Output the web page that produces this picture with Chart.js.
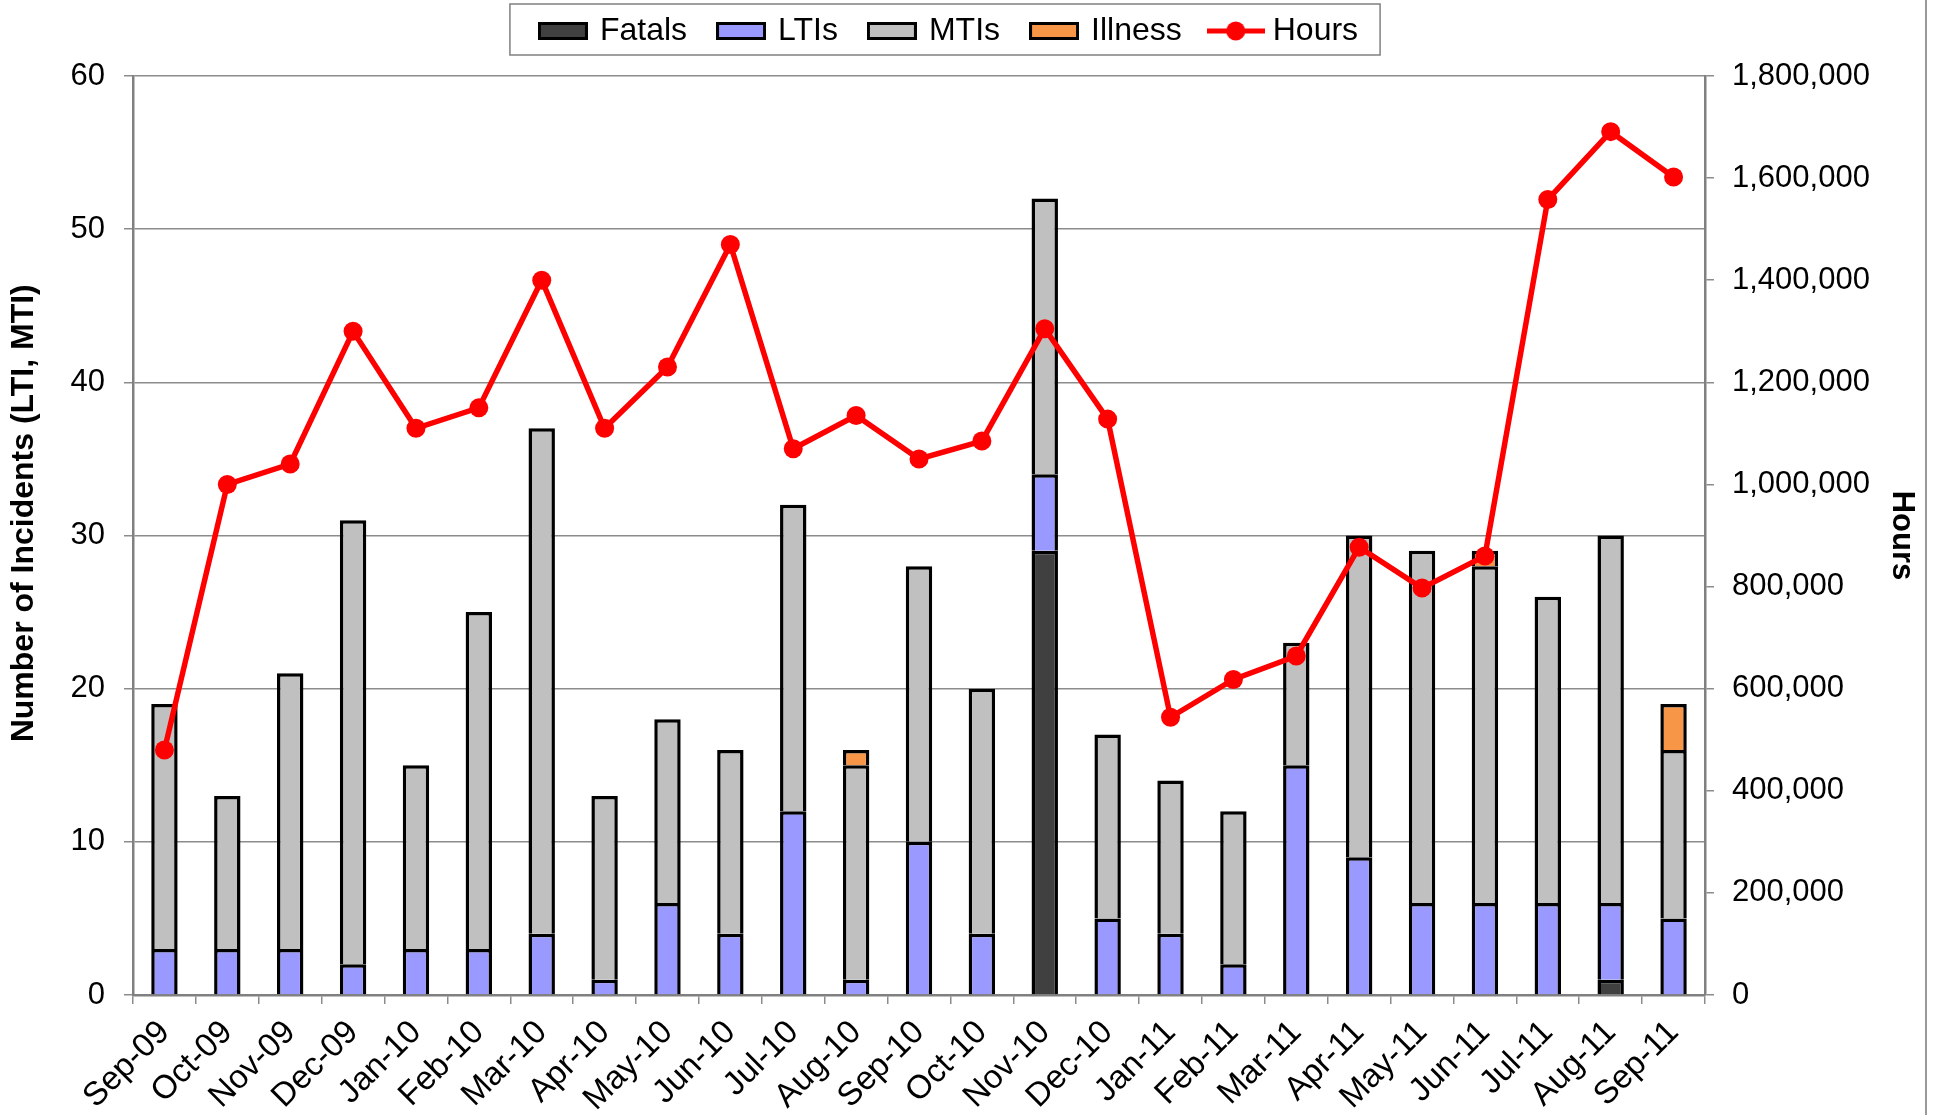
<!DOCTYPE html>
<html>
<head>
<meta charset="utf-8">
<script src="https://cdn.jsdelivr.net/npm/chart.js@4.4.1/dist/chart.umd.min.js"></script>
<style>
html,body{margin:0;padding:0;background:#fff;}
#wrap{width:1934px;height:1115px;position:relative;}
</style>
</head>
<body>
<div id="wrap"><canvas id="c" width="1934" height="1115"></canvas></div>
<script>
const categories = ['Sep-09','Oct-09','Nov-09','Dec-09','Jan-10','Feb-10','Mar-10','Apr-10','May-10','Jun-10','Jul-10','Aug-10','Sep-10','Oct-10','Nov-10','Dec-10','Jan-11','Feb-11','Mar-11','Apr-11','May-11','Jun-11','Jul-11','Aug-11','Sep-11'];
const fatals  = [0,0,0,0,0,0,0,0,0,0,0,0,0,0,29,0,0,0,0,0,0,0,0,1,0];
const ltis    = [3,3,3,2,3,3,4,1,6,4,12,1,10,4,5,5,4,2,15,9,6,6,6,5,5];
const mtis    = [16,10,18,29,12,22,33,12,12,12,20,14,18,16,18,12,10,10,8,21,23,22,20,24,11];
const illness = [0,0,0,0,0,0,0,0,0,0,0,1,0,0,0,0,0,0,0,0,0,1,0,0,3];
const hours   = [480000,1000000,1040000,1300000,1110000,1150000,1400000,1110000,1230000,1470000,1070000,1135000,1050000,1085000,1305000,1128000,544000,618000,664000,877000,797000,860000,1558000,1691000,1602000];
const leftTicks = [0,10,20,30,40,50,60];
const rightTicks = [0,200000,400000,600000,800000,1000000,1200000,1400000,1600000,1800000];

const FONT = "'Liberation Sans', Arial, sans-serif";
Chart.defaults.font.family = FONT;
Chart.defaults.color = '#000';

function boxIcon(fill){
  const c = document.createElement('canvas'); c.width = 50; c.height = 18;
  const g = c.getContext('2d');
  g.fillStyle = fill; g.fillRect(1.5,1.5,47,15);
  g.strokeStyle = '#000'; g.lineWidth = 3; g.strokeRect(1.5,1.5,47,15);
  return c;
}
function lineIcon(){
  const c = document.createElement('canvas'); c.width = 58; c.height = 22;
  const g = c.getContext('2d');
  g.strokeStyle = '#ff0000'; g.lineWidth = 5;
  g.beginPath(); g.moveTo(0,11); g.lineTo(58,11); g.stroke();
  g.fillStyle = '#ff0000'; g.beginPath(); g.arc(29,11,9.5,0,Math.PI*2); g.fill();
  return c;
}

const barBorder = ctx => (ctx.raw ? 3.5 : 0);
const icons = [boxIcon('#404040'), boxIcon('#9999ff'), boxIcon('#c0c0c0'), boxIcon('#f79646'), lineIcon()];

const gridColor = '#8c8c8c';

const legendPlugin = {
  id: 'legendTweak',
  beforeLayout(chart){
    const lg = chart.legend;
    if (lg && !lg._patched){
      const f = lg.fit;
      lg.fit = function(){ f.call(this); this.height = 76; };
      lg._patched = true;
    }
  },
  afterLayout(chart){
    const lg = chart.legend;
    if (lg){ lg.top = -18; lg.left -= 34; }
  },
  afterDraw(chart){
    const g = chart.ctx;
    const lg = chart.legend;
    if (lg && lg.legendHitBoxes && lg.legendHitBoxes.length){
      const hb = lg.legendHitBoxes;
      const l = hb[0].left - 32, r = hb[hb.length-1].left + hb[hb.length-1].width + 22;
      g.save(); g.strokeStyle = '#808080'; g.lineWidth = 1.5;
      g.strokeRect(l, 4, r - l, 51);
      g.restore();
    }
    g.save(); g.strokeStyle = '#999'; g.lineWidth = 2;
    g.beginPath(); g.moveTo(1926, 0); g.lineTo(1926, 1115); g.stroke(); g.restore();
  }
};

const barCommon = {borderColor:'#000', borderWidth: barBorder, borderSkipped:'start', order:1, stack:'s'};

new Chart(document.getElementById('c'), {
  type: 'bar',
  data: {
    labels: categories,
    datasets: [
      {type:'line', label:'Hours', data: hours, yAxisID:'y1', order:0, borderColor:'#ff0000', backgroundColor:'#ff0000', borderWidth:5.5, pointRadius:9.5, pointHoverRadius:9.5, pointBackgroundColor:'#ff0000', pointBorderWidth:0, tension:0},
      Object.assign({label:'Fatals', data: fatals, backgroundColor:'#404040'}, barCommon),
      Object.assign({label:'LTIs', data: ltis, backgroundColor:'#9999ff'}, barCommon),
      Object.assign({label:'MTIs', data: mtis, backgroundColor:'#c0c0c0'}, barCommon),
      Object.assign({label:'Illness', data: illness, backgroundColor:'#f79646'}, barCommon)
    ]
  },
  options: {
    responsive:false, animation:false, devicePixelRatio:1,
    layout:{padding:0},
    datasets:{bar:{categoryPercentage:1, barPercentage:0.42}},
    plugins:{
      tooltip:{enabled:false},
      legend:{
        position:'top',
        labels:{
          font:{size:32, family:FONT}, color:'#000', padding:33,
          usePointStyle:true, pointStyleWidth:42,
          generateLabels(chart){
            const order = ['Fatals','LTIs','MTIs','Illness','Hours'];
            return order.map((name,k)=>{
              const i = chart.data.datasets.findIndex(d=>d.label===name);
              return {text:name, datasetIndex:i, pointStyle:icons[k], fillStyle:'#000', strokeStyle:'#000', lineWidth:0, hidden:false, fontColor:'#000'};
            });
          }
        }
      }
    },
    scales:{
      x:{
        stacked:true,
        afterFit(s){ s.height = 120; },
        grid:{display:true, drawOnChartArea:false, drawTicks:true, tickLength:9, color:gridColor, lineWidth:1.5, offset:true},
        border:{display:true, color:'#808080', width:2.5},
        ticks:{font:{size:33}, color:'#000', minRotation:45, maxRotation:45, autoSkip:false, padding:9}
      },
      y:{
        stacked:true, position:'left', min:0, max:60,
        afterFit(s){ s.width = 133; },
        afterBuildTicks(s){ s.ticks = leftTicks.map(v=>({value:v})); },
        grid:{color:gridColor, lineWidth:1.5, tickLength:9, drawTicks:true},
        border:{display:true, color:'#808080', width:2.5},
        ticks:{font:{size:31}, color:'#000', padding:19},
        title:{display:true, text:'     Number of Incidents (LTI, MTI)', font:{size:32, weight:'bold'}, color:'#000', padding:{top:5, bottom:0}}
      },
      y1:{
        position:'right', min:0, max:1800000,
        afterFit(s){ s.width = 229; },
        afterBuildTicks(s){ s.ticks = rightTicks.map(v=>({value:v})); },
        grid:{drawOnChartArea:false, color:gridColor, lineWidth:1.5, tickLength:9, drawTicks:true},
        border:{display:true, color:'#808080', width:2.5},
        ticks:{font:{size:31}, color:'#000', padding:18, callback:v=>Number(v).toLocaleString('en-US')},
        title:{display:true, text:'Hours', font:{size:31, weight:'bold'}, color:'#000', padding:{top:14, bottom:0}}
      }
    }
  },
  plugins:[legendPlugin]
});
</script>
</body>
</html>
